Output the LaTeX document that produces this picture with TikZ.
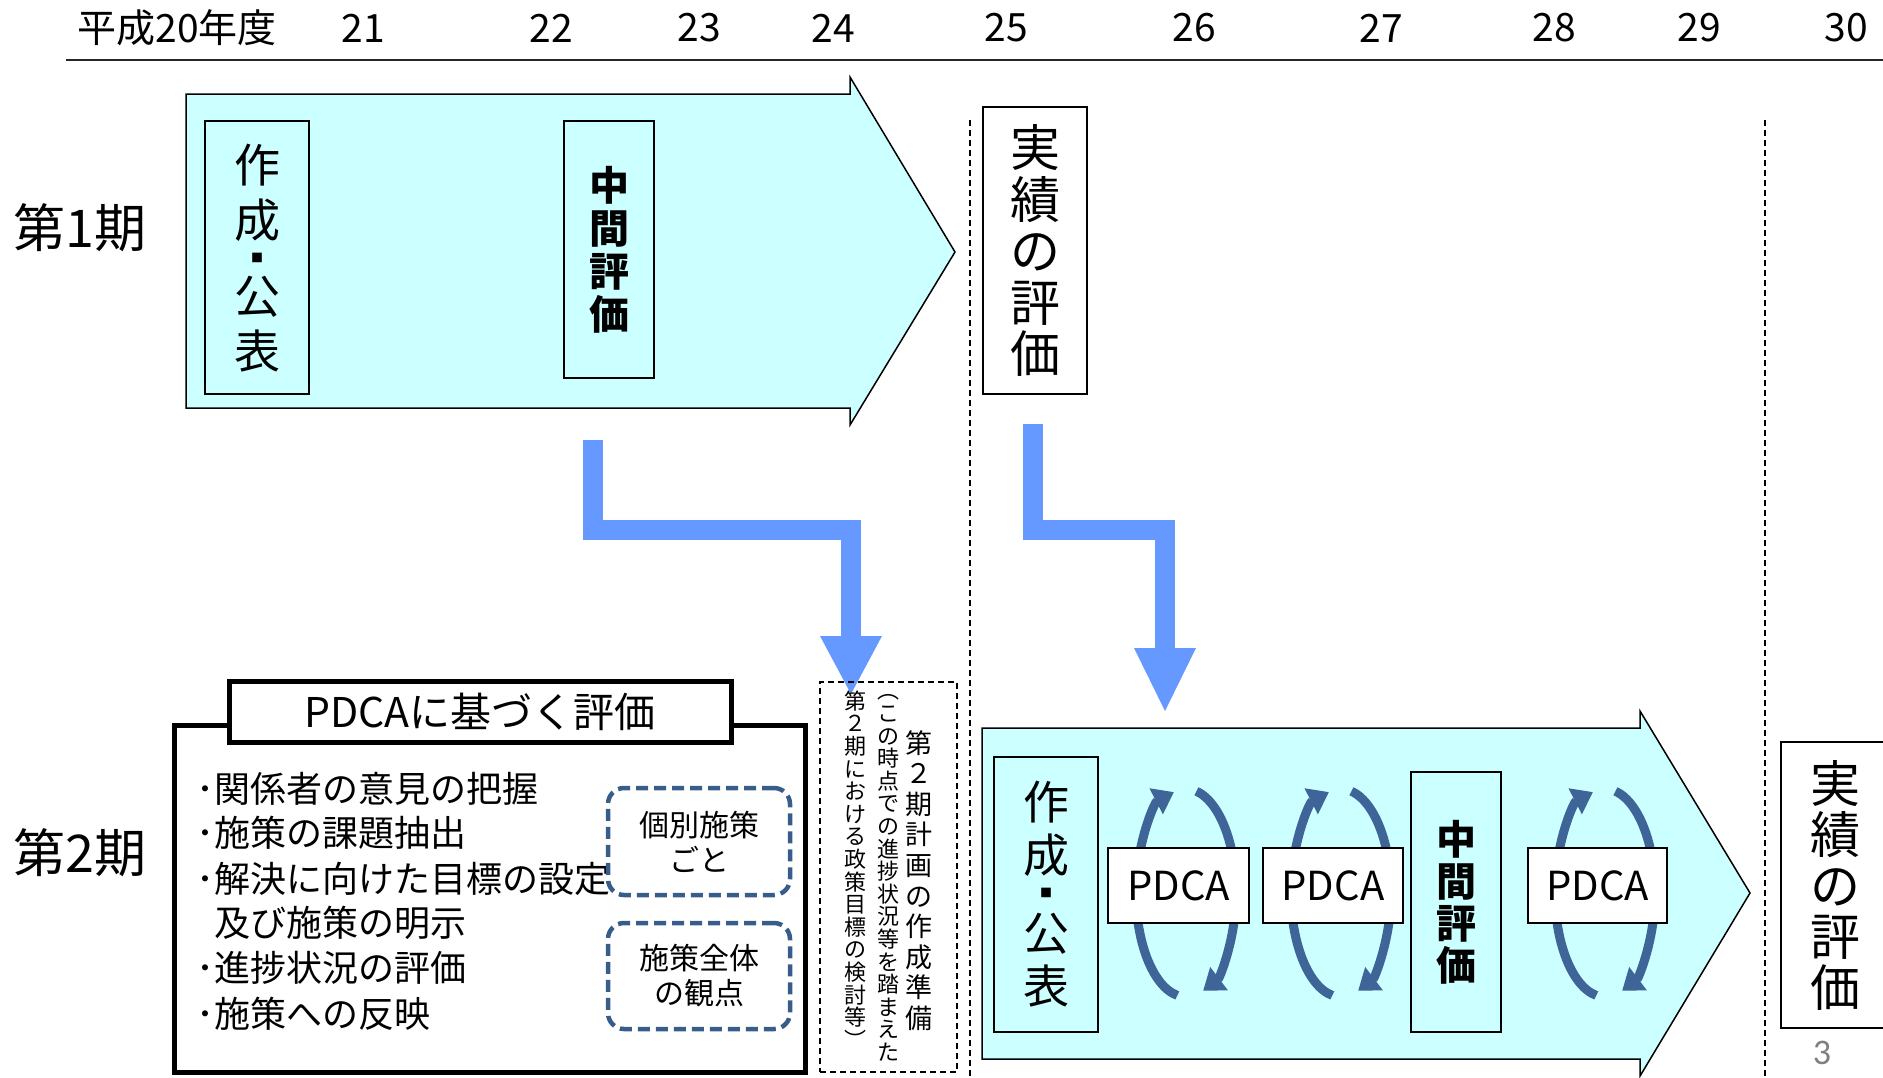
\documentclass[tikz,border=0pt]{standalone}
\usepackage{fontspec}
\setmainfont{Noto Sans CJK JP}
\newfontfamily\pagefont{Carlito}
\usetikzlibrary{arrows.meta}
\definecolor{lightcyan}{HTML}{CCFFFF}
\definecolor{arrowblue}{HTML}{6699FF}
\definecolor{dashblue}{HTML}{385D8A}
\definecolor{pdcablue}{HTML}{3F6598}
\setlength{\lineskiplimit}{-1000pt}
\begin{document}
\begin{tikzpicture}[x=1pt,y=-1pt,
 yearlbl/.style={inner sep=0pt, font=\fontsize{39}{44}\selectfont},
 periodlbl/.style={inner sep=0pt, font=\fontsize{52}{56}\selectfont},
 bigarrow/.style={fill=lightcyan, draw=black, line width=1.5pt, line join=miter},
 vbox/.style={draw=black, line width=2pt, inner sep=0pt, align=center},
 vtext/.style={inner sep=0pt, align=center},
 middot/.style={inner sep=0pt, font=\fontsize{12}{12}\selectfont},
 blueshaft/.style={draw=arrowblue, line width=20pt, line join=miter},
 bluehead/.style={fill=arrowblue},
 dashline/.style={draw=black, line width=1.5pt, dash pattern=on 6pt off 4pt},
 pdcabox/.style={draw=black, line width=2pt, fill=white, inner sep=0pt, minimum height=75pt, font=\fontsize{40}{44}\selectfont},
 pdcaarc/.style={draw=pdcablue, line width=9pt, -{Triangle[length=20pt,width=28pt]}},
 evalframe/.style={draw=black, line width=5pt},
 titlebox/.style={draw=black, line width=5pt, fill=white, inner sep=0pt, minimum width=502pt, minimum height=61pt, font=\fontsize{41}{45}\selectfont},
 bulletline/.style={anchor=west, inner sep=0pt, font=\fontsize{36}{40}\selectfont},
 scopebox/.style={draw=dashblue, line width=4.5pt, dash pattern=on 12pt off 6pt, rounded corners=16pt, minimum width=182pt, inner sep=0pt, align=center, font=\fontsize{30}{35}\selectfont},
 prepbox/.style={draw=black, line width=1.5pt, dash pattern=on 6pt off 4pt, inner sep=0pt, minimum width=137pt, minimum height=390pt},
 vcol/.style={inner sep=0pt, align=center},
 pagenum/.style={inner sep=0pt, text=gray, font=\pagefont\fontsize{36}{40}\selectfont}]
\useasboundingbox (0,0) rectangle (1883,1077);

% top timeline
\coordinate (topl) at (66,60);
\coordinate (topr) at (1883,60);
\draw[line width=2pt, black!85] (topl) -- (topr);
\node[yearlbl] (y20) at (177,28) {平成20年度};
\node[yearlbl] (y21) at (363,28) {21};
\node[yearlbl] (y22) at (551,28) {22};
\node[yearlbl] (y23) at (699,28) {23};
\node[yearlbl] (y24) at (833,28) {24};
\node[yearlbl] (y25) at (1006,28) {25};
\node[yearlbl] (y26) at (1194,28) {26};
\node[yearlbl] (y27) at (1381,28) {27};
\node[yearlbl] (y28) at (1554,28) {28};
\node[yearlbl] (y29) at (1699,28) {29};
\node[yearlbl] (y30) at (1846,28) {30};

% period labels
\node[periodlbl] (p1lbl) at (80,228) {第1期};
\node[periodlbl] (p2lbl) at (80,853) {第2期};

% dashed year dividers
\coordinate (d1top) at (970,120);
\coordinate (d1bot) at (970,1077);
\coordinate (d2top) at (1765,120);
\coordinate (d2bot) at (1765,1077);
\draw[dashline] (d1top) -- (d1bot);
\draw[dashline] (d2top) -- (d2bot);

% period 1 arrow
\draw[bigarrow] (186,94) -- (850,94) -- (850,77) -- (955,252) -- (850,425) -- (850,408) -- (186,408) -- cycle;
\node[vbox, minimum width=104pt, minimum height=273pt] (p1make) at (257,257.5) {};
\node[vtext, font=\fontsize{46}{55}\selectfont] (p1makeA) at (257,192.5) {作\\成};
\node[middot] (p1dot) at (257,258) {■};
\node[vtext, font=\fontsize{46}{55}\selectfont] (p1makeB) at (257,324.5) {公\\表};
\node[vbox, minimum width=90pt, minimum height=257pt, font=\bfseries\fontsize{40}{43}\selectfont] (p1mid) at (609,249.5) {中\\間\\評\\価};
\node[vbox, minimum width=104pt, minimum height=287pt, font=\fontsize{50}{51.5}\selectfont] (p1res) at (1035,250.5) {実\\績\\の\\評\\価};

% blue bent arrows
\coordinate (a1start) at (593,440);
\coordinate (a1turn) at (851,530);
\coordinate (a1base) at (851,638);
\coordinate (a1hl) at (820,636);
\coordinate (a1hr) at (882,636);
\coordinate (a1tip) at (851,694);
\draw[blueshaft] (a1start) |- (a1turn) -- (a1base);
\fill[bluehead] (a1hl) -- (a1hr) -- (a1tip) -- cycle;
\coordinate (a2start) at (1033,424);
\coordinate (a2turn) at (1165,530);
\coordinate (a2base) at (1165,650);
\coordinate (a2hl) at (1134,648);
\coordinate (a2hr) at (1196,648);
\coordinate (a2tip) at (1165,711);
\draw[blueshaft] (a2start) |- (a2turn) -- (a2base);
\fill[bluehead] (a2hl) -- (a2hr) -- (a2tip) -- cycle;

% PDCA evaluation frame
\coordinate (evtl) at (174,725);
\coordinate (evbr) at (805,1072);
\draw[evalframe] (evtl) rectangle (evbr);
\node[titlebox] (evtitle) at (480,711.5) {PDCAに基づく評価};
\node[bulletline] (l1) at (196,789) {･関係者の意見の把握};
\node[bulletline] (l2) at (196,833) {･施策の課題抽出};
\node[bulletline] (l3) at (196,879) {･解決に向けた目標の設定};
\node[bulletline] (l4) at (214,923) {及び施策の明示};
\node[bulletline] (l5) at (196,968) {･進捗状況の評価};
\node[bulletline] (l6) at (196,1014) {･施策への反映};
\node[scopebox, minimum height=107pt] (sc1) at (699,841.5) {個別施策\\ごと};
\node[scopebox, minimum height=106pt] (sc2) at (699,976) {施策全体\\の観点};

% preparation box
\node[prepbox] (prep) at (888.5,877) {};
\node[vcol, font=\fontsize{27}{30.6}\selectfont] (prepc1) at (919,880.5) {第\\２\\期\\計\\画\\の\\作\\成\\準\\備};
\node[vcol, font=\fontsize{22}{22.6}\selectfont] (prepc2) at (888,878) {︵\\こ\\の\\時\\点\\で\\の\\進\\捗\\状\\況\\等\\を\\踏\\ま\\え\\た};
\node[vcol, font=\fontsize{22}{22.6}\selectfont] (prepc3) at (855,869.5) {第\\２\\期\\に\\お\\け\\る\\政\\策\\目\\標\\の\\検\\討\\等\\︶};

% period 2 arrow
\draw[bigarrow] (982,728) -- (1640,728) -- (1640,711) -- (1750,893) -- (1640,1076) -- (1640,1059) -- (982,1059) -- cycle;
\node[vbox, minimum width=104pt, minimum height=275pt] (p2make) at (1046,894.5) {};
\node[vtext, font=\fontsize{46}{53}\selectfont] (p2makeA) at (1046,828.5) {作\\成};
\node[middot] (p2dot) at (1046,893) {■};
\node[vtext, font=\fontsize{46}{53}\selectfont] (p2makeB) at (1046,960.5) {公\\表};

% PDCA cycles
\coordinate (e1) at (1186,893);
\coordinate (e2) at (1341,893);
\coordinate (e3) at (1605,893);
\foreach \e in {e1,e2,e3}{
  \draw[pdcaarc] (\e) ++(-78:50 and 104) arc[start angle=-78, end angle=70, x radius=50, y radius=104];
  \draw[pdcaarc] (\e) ++(100:50 and 104) arc[start angle=100, end angle=256, x radius=50, y radius=104];
}
\node[pdcabox, minimum width=141pt] (pd1) at (1178.5,885.5) {PDCA};
\node[pdcabox, minimum width=140pt] (pd2) at (1333,885.5) {PDCA};
\node[pdcabox, minimum width=139pt] (pd3) at (1597.5,885.5) {PDCA};

\node[vbox, minimum width=90pt, minimum height=260pt, font=\bfseries\fontsize{40}{42}\selectfont] (p2mid) at (1456,902) {中\\間\\評\\価};
\node[vbox, minimum width=109pt, minimum height=286pt, font=\fontsize{50}{51}\selectfont] (p2res) at (1835.5,885) {実\\績\\の\\評\\価};

\node[pagenum] (pg) at (1822,1053) {3};
\end{tikzpicture}
\end{document}
